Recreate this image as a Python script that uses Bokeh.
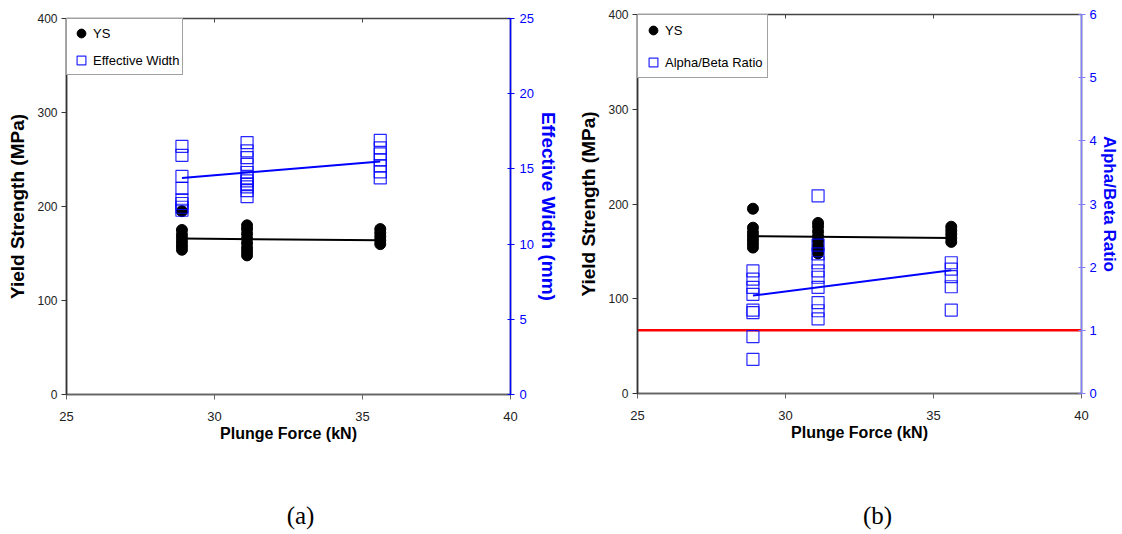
from bokeh.plotting import figure
from bokeh.layouts import row, column
from bokeh.models import (LinearAxis, Range1d, Legend, LegendItem,
                          FixedTicker, ColumnDataSource)
from bokeh.core.properties import value
from bokeh.embed import file_html
from bokeh.resources import INLINE

# ---------------- data ----------------
force_levels = [28.9, 31.1, 35.6]

ys_f1 = [195, 175, 170, 166, 162, 158, 154]
ys_f2 = [180, 176, 171, 166, 161, 156, 152, 148]
ys_f3 = [176, 172, 168, 164, 160]

width_f1 = [16.5, 15.9, 14.5, 13.7, 12.95, 12.7, 12.45, 12.25]
width_f2 = [16.75, 16.2, 15.75, 15.3, 14.76, 14.4, 14.2, 14.0, 13.8, 13.55, 13.15]
width_f3 = [16.9, 16.4, 16.0, 15.6, 15.2, 14.8, 14.4]

ratio_f1 = [1.94, 1.81, 1.68, 1.57, 1.32, 1.28, 0.90, 0.54]
ratio_f2 = [3.13, 2.35, 2.21, 2.07, 1.94, 1.84, 1.68, 1.44, 1.31, 1.18]
ratio_f3 = [2.07, 1.97, 1.85, 1.69, 1.32]

trend_x = [28.9, 35.6]
ys_trend = [166, 164]
width_trend = [14.4, 15.5]
ratio_trend = [1.55, 1.95]

ratio_reference = 1.0

x_ticks = [25, 30, 35, 40]
top_ticks = [30, 35]
ys_ticks = [0, 100, 200, 300, 400]
width_ticks = [0, 5, 10, 15, 20, 25]
ratio_ticks = [0, 1, 2, 3, 4, 5, 6]

captions = ["(a)", "(b)"]

FONT = "Liberation Sans"
BLUE = "#0000ff"


def stack(groups):
    xs, vs = [], []
    for fx, vals in zip(force_levels, groups):
        xs += [fx] * len(vals)
        vs += list(vals)
    return ColumnDataSource(dict(x=xs, y=vs))


ys_src = stack([ys_f1, ys_f2, ys_f3])
width_src = stack([width_f1, width_f2, width_f3])
ratio_src = stack([ratio_f1, ratio_f2, ratio_f3])


def style_axis(ax, color="#222222", line_color="#444444", size="12px"):
    ax.major_label_text_font = FONT
    ax.major_label_text_font_size = size
    ax.major_label_text_color = color
    ax.axis_line_color = line_color
    ax.axis_line_width = 1.5
    ax.major_tick_line_color = line_color
    ax.minor_tick_line_color = None
    ax.axis_label_text_font = FONT
    ax.axis_label_text_font_style = "bold"


def make_panel(border_left, border_right, border_top, border_bottom,
               right_range, right_ticks, right_label, right_label_size,
               right_label_standoff, right_tick_standoff, right_src, right_trend,
               right_axis_color, legend_label, legend_pad, legend_spacing,
               ref_line=None):
    p = figure(width=561, height=470,
               x_range=Range1d(25, 40), y_range=Range1d(0, 400),
               output_backend="svg", toolbar_location=None,
               min_border_left=border_left, min_border_right=border_right,
               min_border_top=border_top, min_border_bottom=border_bottom,
               background_fill_color="white", border_fill_color="white")
    p.grid.visible = False
    p.outline_line_color = "#444444"
    p.outline_line_width = 1.5
    p.extra_y_ranges = {"r": Range1d(*right_range)}

    # left axis
    ly = p.yaxis[0]
    ly.ticker = FixedTicker(ticks=ys_ticks)
    style_axis(ly, line_color="#333333")
    ly.major_tick_out = 5
    ly.major_tick_in = 0
    ly.major_label_standoff = 4
    ly.axis_label = "Yield Strength (MPa)"
    ly.axis_label_text_font_size = "19px"
    ly.axis_label_standoff = 6
    ly.axis_label_text_color = "#000000"

    # bottom axis
    bx = p.xaxis[0]
    bx.ticker = FixedTicker(ticks=x_ticks)
    style_axis(bx, line_color="#666666", size="13px")
    bx.major_tick_out = 5
    bx.major_tick_in = 0
    bx.major_label_standoff = 12
    bx.axis_label = "Plunge Force (kN)"
    bx.axis_label_text_font_size = "16px"
    bx.axis_label_standoff = 1
    bx.axis_label_text_color = "#000000"

    # top axis (ticks only, crossing the top border)
    tx = LinearAxis(ticker=FixedTicker(ticks=top_ticks))
    tx.axis_line_color = None
    tx.major_tick_line_color = "#444444"
    tx.major_tick_in = 4
    tx.major_tick_out = 0
    tx.minor_tick_line_color = None
    tx.major_label_overrides = {t: "" for t in top_ticks}
    tx.major_label_text_font_size = "0px"
    tx.major_label_standoff = 0
    tx.axis_label_standoff = 0
    tx.axis_label_text_font_size = "0px"
    p.add_layout(tx, "above")

    # right axis
    ry = LinearAxis(y_range_name="r", ticker=FixedTicker(ticks=right_ticks))
    style_axis(ry, color=BLUE, line_color=right_axis_color, size="13px")
    ry.major_tick_in = 3
    ry.major_tick_out = 4
    ry.major_label_standoff = right_tick_standoff
    ry.axis_label = right_label
    ry.axis_label_text_font_size = right_label_size
    ry.axis_label_text_color = BLUE
    ry.axis_label_standoff = right_label_standoff
    p.add_layout(ry, "right")

    if ref_line is not None:
        p.ray(x=[25], y=[ref_line], length=0, angle=0, line_color="#ff0000",
              line_width=2.5, y_range_name="r")

    r_ys = p.scatter("x", "y", source=ys_src, marker="circle", size=11,
                     fill_color="black", line_color="black")
    p.line(trend_x, ys_trend, line_color="black", line_width=2)
    r_right = p.scatter("x", "y", source=right_src, marker="square", size=12,
                        fill_color=None, line_color=BLUE, line_alpha=0.85,
                        line_width=1.2, y_range_name="r")
    p.line(trend_x, right_trend, line_color=BLUE, line_width=2, y_range_name="r")

    legend = Legend(items=[LegendItem(label="YS", renderers=[r_ys]),
                           LegendItem(label=legend_label, renderers=[r_right])],
                    location="top_left", margin=0, padding=legend_pad,
                    spacing=legend_spacing, glyph_width=22, glyph_height=22,
                    label_height=20, label_standoff=1,
                    label_text_font=FONT, label_text_font_size="13px",
                    label_text_color="#000000",
                    border_line_color="#444444", border_line_width=1.5,
                    background_fill_color="white", background_fill_alpha=1.0)
    p.add_layout(legend)
    return p


pa = make_panel(66, 50, 18, 76,
                (0, 25), width_ticks, "Effective Width (mm)", "19px", 1, 5,
                width_src, width_trend, BLUE, "Effective Width", 3, 5)
pb = make_panel(76, 41, 14, 77,
                (0, 6), ratio_ticks, "Alpha/Beta Ratio", "17px", 0, 4,
                ratio_src, ratio_trend, "#8080ff", "Alpha/Beta Ratio", 4, 10,
                ref_line=ratio_reference)

# caption strip below both panels
pc = figure(width=1122, height=64, x_range=Range1d(0, 1122), y_range=Range1d(0, 64),
            output_backend="svg", toolbar_location=None,
            min_border_left=0, min_border_right=0, min_border_top=0, min_border_bottom=0,
            background_fill_color="white", border_fill_color="white")
pc.axis.visible = False
pc.grid.visible = False
pc.outline_line_color = None
pc.text(x=[300, 877], y=[19, 19], text=captions, text_align="center",
        text_baseline="middle", text_font=value("Liberation Serif"),
        text_font_size="25px", text_color="#000000")

layout = column(row(column(pa), column(pb), spacing=0), pc, spacing=0)
open("out.html", "w").write(file_html(layout, INLINE))
